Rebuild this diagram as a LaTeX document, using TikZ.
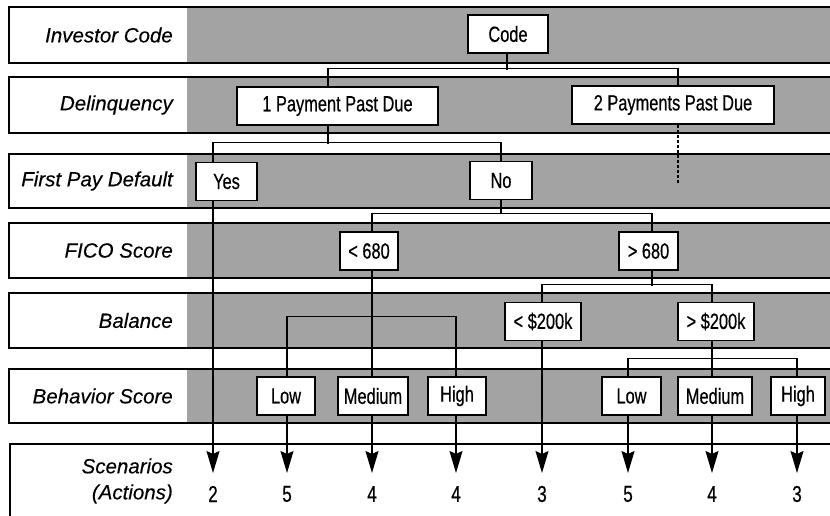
\documentclass[tikz,border=0pt]{standalone}
\usepackage{fontspec}
\setmainfont{Liberation Sans}
\newfontfamily\condfont[FakeStretch=0.745,FakeBold=0.5]{Liberation Sans}
\newfontfamily\labfont[FakeBold=0.3]{Liberation Sans}
\usetikzlibrary{arrows.meta,calc}
\begin{document}
\begin{tikzpicture}[x=1pt,y=-1pt,
  lab/.style={font=\labfont\fontsize{20.5}{26}\selectfont\itshape, anchor=east, align=right, inner sep=0pt},
  box/.style={draw, fill=white, line width=1.5pt, minimum height=38pt, inner sep=0pt, font=\condfont\fontsize{22}{24}\selectfont},
  conn/.style={line width=1.3pt},
  dconn/.style={line width=1.3pt, dash pattern=on 3pt off 2pt},
  arr/.style={line width=1.3pt, -{Stealth[length=22pt,width=13pt,inset=3pt]}},
  num/.style={font=\condfont\fontsize{23}{24}\selectfont, inner sep=0pt},
  rowbox/.style={draw, line width=1.5pt},
  shade/.style={fill=black!36}
  ]
\useasboundingbox (0,0) rectangle (830,516);
\clip (0,0) rectangle (830,516);
% rows
\foreach \t/\b in {7/63,77/133,154/208,223/278,293/348,369/423}{
  \fill[shade] (187,\t) rectangle (845,\b);
  \draw[rowbox] (9,\t) rectangle (845,\b);
}
\draw[rowbox] (10,444) rectangle (845,522);
% row labels
\node[lab] (lInv) at (173,35) {Investor Code};
\node[lab] (lDel) at (173,105) {Delinquency};
\node[lab] (lFpd) at (173,181) {First Pay Default};
\node[lab] (lFico) at (173,250.5) {FICO Score};
\node[lab] (lBal) at (173,320.5) {Balance};
\node[lab] (lBeh) at (173,396) {Behavior Score};
\node[lab] (lSc) at (173,481) {Scenarios\\(Actions)};
% decision boxes
\node[box, minimum width=80pt] (code) at (508,34) {Code};
\node[box, minimum width=201pt] (p1) at (337.5,106) {1 Payment Past Due};
\node[box, minimum width=202pt] (p2) at (673,105) {2 Payments Past Due};
\node[box, minimum width=61pt] (yes) at (226.5,181.5) {Yes};
\node[box, minimum width=62pt] (no) at (501,180.5) {No};
\node[box, minimum width=58pt] (lt680) at (369,251) {< 680};
\node[box, minimum width=59pt] (gt680) at (648.5,251) {> 680};
\node[box, minimum width=76pt] (lt200) at (543,321.5) {< \$200k};
\node[box, minimum width=76pt] (gt200) at (716,321.5) {> \$200k};
\node[box, minimum width=58pt] (low1) at (286,396) {Low};
\node[box, minimum width=70pt] (med1) at (373,396) {Medium};
\node[box, minimum width=58pt] (high1) at (457,396) {High};
\node[box, minimum width=59pt] (low2) at (631.5,396) {Low};
\node[box, minimum width=74pt] (med2) at (715,396) {Medium};
\node[box, minimum width=54pt] (high2) at (798,396) {High};
% scenario numbers
\coordinate (tip) at (0,473);
\node[num] (s1) at (213,494) {2};
\node[num] (s2) at (287,494) {5};
\node[num] (s3) at (372,494) {4};
\node[num] (s4) at (456,494) {4};
\node[num] (s5) at (542,494) {3};
\node[num] (s6) at (628,494) {5};
\node[num] (s7) at (712,494) {4};
\node[num] (s8) at (797,494) {3};
% connectors
\draw[conn] ([xshift=-1pt]code.south) -- ++(0,16);
\draw[conn] ([xshift=-9.5pt]p1.north) -- ++(0,-18) -| ([xshift=5pt]p2.north);
\draw[conn] ([xshift=-9.5pt]p1.south) -- ++(0,18);
\draw[conn] ([xshift=-13.5pt]yes.north) -- ++(0,-19) -| (no.north);
\draw[dconn] ([xshift=5pt]p2.south) -- ++(0,59);
\draw[conn] (no.south) -- ++(0,14);
\draw[conn] ([xshift=3pt]lt680.north) -- ++(0,-18) -| ([xshift=3.5pt]gt680.north);
\draw[conn] ([xshift=3pt]lt680.south) -- ([xshift=3pt]lt680.south |- med1.north);
\draw[conn] ([xshift=1pt]low1.north) -- ++(0,-60) -| ([xshift=-1pt]high1.north);
\draw[conn] ([xshift=3.5pt]gt680.south) -- ++(0,15);
\draw[conn] ([xshift=-1pt]lt200.north) -- ++(0,-17) -| ([xshift=-4pt]gt200.north);
\draw[conn] ([xshift=-4pt]gt200.south) -- ([xshift=-4pt]gt200.south |- med2.north);
\draw[conn] ([xshift=-3.5pt]low2.north) -- ++(0,-18) -| ([xshift=-1pt]high2.north);
% arrows to scenarios
\draw[arr] ([xshift=-13.5pt]yes.south) -- (s1 |- tip);
\draw[arr] ([xshift=1pt]low1.south) -- (s2 |- tip);
\draw[arr] ([xshift=-1pt]med1.south) -- (s3 |- tip);
\draw[arr] ([xshift=-1pt]high1.south) -- (s4 |- tip);
\draw[arr] ([xshift=-1pt]lt200.south) -- (s5 |- tip);
\draw[arr] ([xshift=-3.5pt]low2.south) -- (s6 |- tip);
\draw[arr] ([xshift=-3pt]med2.south) -- (s7 |- tip);
\draw[arr] ([xshift=-1pt]high2.south) -- (s8 |- tip);
\end{tikzpicture}
\end{document}
